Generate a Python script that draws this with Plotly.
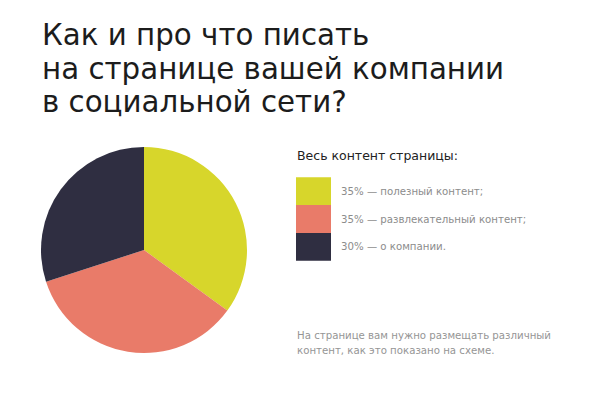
import plotly.graph_objects as go

W, H = 614, 394

title_lines = ["Как и про что писать", "на странице вашей компании", "в социальной сети?"]
legend_title = "Весь контент страницы:"
labels = ["полезный контент;", "развлекательный контент;", "о компании."]
values = [35, 35, 30]
colors = ["#D7D62B", "#E97B69", "#2F2E41"]
note_lines = ["На странице вам нужно размещать различный", "контент, как это показано на схеме."]

FONT = "DejaVu Sans, Liberation Sans, Arial, sans-serif"

def px_x(x):
    return x / W

def px_y(y):
    return 1 - y / H

cx, cy, r = 144, 250, 103

fig = go.Figure()
fig.add_trace(go.Pie(
    labels=labels,
    values=values,
    marker=dict(colors=colors, line=dict(width=0)),
    sort=False,
    direction="clockwise",
    rotation=0,
    textinfo="none",
    hoverinfo="label+percent",
    showlegend=False,
    domain=dict(x=[px_x(cx - r), px_x(cx + r)], y=[px_y(cy + r), px_y(cy - r)]),
))

annotations = []
for i, line in enumerate(title_lines):
    annotations.append(dict(
        text=line, x=px_x(40), y=px_y(35 + i * 33.5), xref="paper", yref="paper",
        xanchor="left", yanchor="middle", showarrow=False,
        font=dict(family=FONT, size=29.3, color="#1c1c1c"),
    ))

annotations.append(dict(
    text=legend_title, x=px_x(295), y=px_y(155), xref="paper", yref="paper",
    xanchor="left", yanchor="middle", showarrow=False,
    font=dict(family=FONT, size=12.5, color="#222222"),
))

shapes = []
sw_top, sw_h = 177.3, 27.8
total = sum(values)
for i, (lab, val, col) in enumerate(zip(labels, values, colors)):
    y0 = sw_top + i * sw_h
    shapes.append(dict(
        type="rect", xref="paper", yref="paper",
        x0=px_x(296), x1=px_x(331), y0=px_y(y0 + sw_h), y1=px_y(y0),
        fillcolor=col, line=dict(width=0),
    ))
    pct = round(val / total * 100)
    annotations.append(dict(
        text=f"{pct}% — {lab}", x=px_x(339), y=px_y(y0 + sw_h / 2),
        xref="paper", yref="paper", xanchor="left", yanchor="middle",
        showarrow=False, font=dict(family=FONT, size=10.2, color="#8c8c8c"),
    ))

for i, line in enumerate(note_lines):
    annotations.append(dict(
        text=line, x=px_x(295), y=px_y(335 + i * 15), xref="paper", yref="paper",
        xanchor="left", yanchor="middle", showarrow=False,
        font=dict(family=FONT, size=10.2, color="#959595"),
    ))

fig.update_layout(
    width=W, height=H,
    margin=dict(l=0, r=0, t=0, b=0),
    paper_bgcolor="white",
    plot_bgcolor="white",
    annotations=annotations,
    shapes=shapes,
)

fig.write_html("out.html", config={"displayModeBar": False},
               post_script="document.body.style.margin='0';")
